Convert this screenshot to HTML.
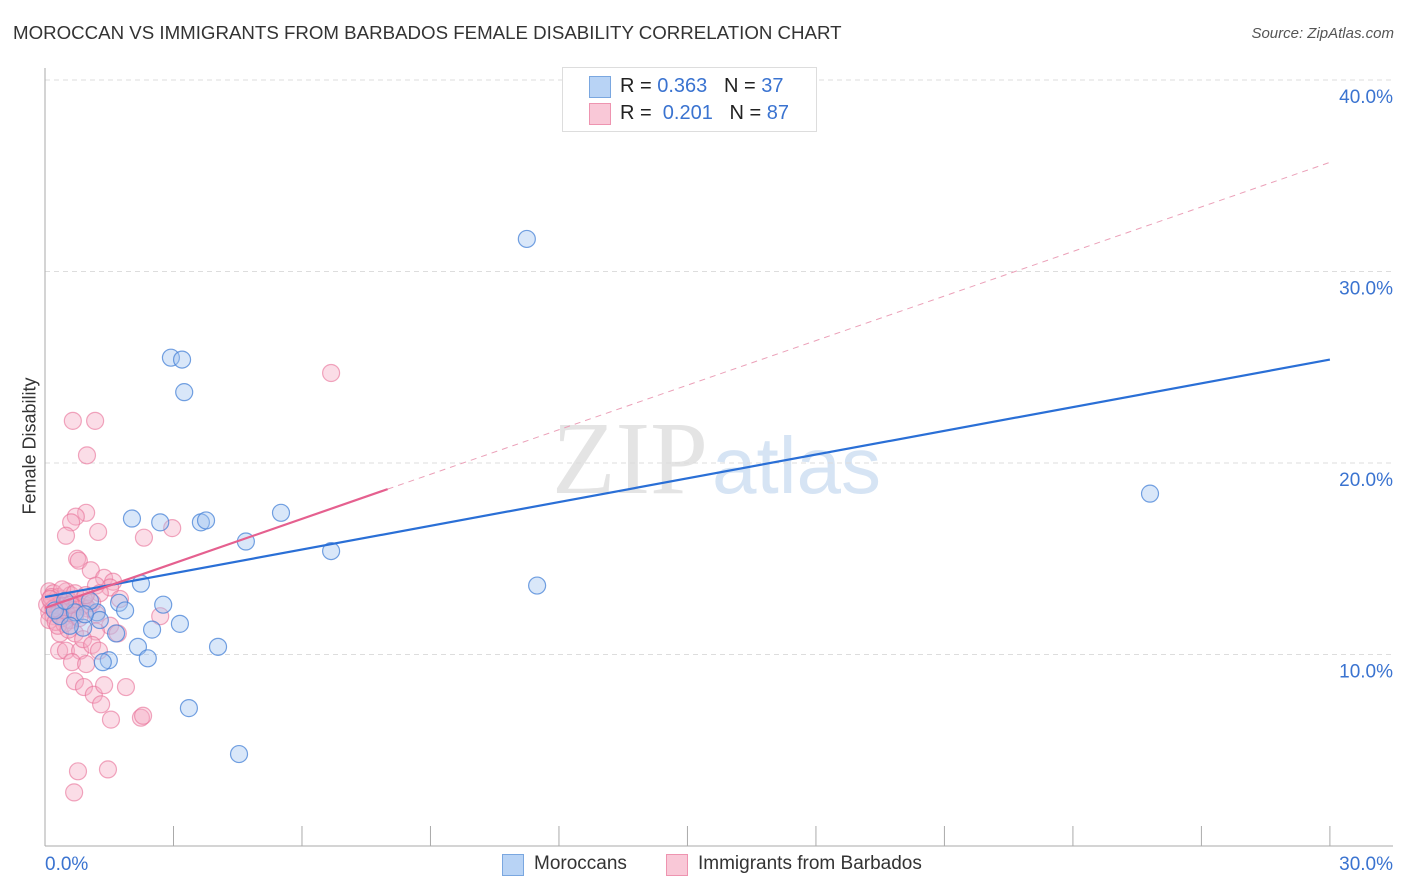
<!DOCTYPE html>
<html><head><meta charset="utf-8"><style>
body{margin:0;background:#fff;font-family:"Liberation Sans",sans-serif;}
#wrap{position:relative;width:1406px;height:892px;overflow:hidden;}
.t{position:absolute;white-space:nowrap;}
</style></head><body>
<div id="wrap">
<div class="t" style="left:13px;top:22px;font-size:18.7px;color:#333;">MOROCCAN VS IMMIGRANTS FROM BARBADOS FEMALE DISABILITY CORRELATION CHART</div>
<div class="t" style="right:12px;top:25px;font-size:15px;color:#555;font-style:italic;">Source: ZipAtlas.com</div>
<div class="t" style="left:-30px;top:444px;font-size:18px;color:#333;transform:rotate(-90deg);width:120px;text-align:center;">Female Disability</div>
<svg id="svg" width="1406" height="892" style="position:absolute;left:0;top:0"></svg>
<div style="position:absolute;left:562px;top:67px;width:253px;height:63px;border:1px solid #ddd;background:#fff;font-size:20px;">
 <div style="position:absolute;left:26px;top:8px;width:20px;height:20px;background:#b8d3f5;border:1px solid #7aa7e0;"></div>
 <div class="t" style="left:57px;top:7px;color:#222;">R = <span style="color:#3a73d0">0.363</span>&nbsp;&nbsp;&nbsp;N = <span style="color:#3a73d0">37</span></div>
 <div style="position:absolute;left:26px;top:35px;width:20px;height:20px;background:#f9c8d7;border:1px solid #ee94b0;"></div>
 <div class="t" style="left:57px;top:34px;color:#222;">R = &nbsp;<span style="color:#3a73d0">0.201</span>&nbsp;&nbsp;&nbsp;N = <span style="color:#3a73d0">87</span></div>
</div>
<div style="position:absolute;left:502px;top:852px;font-size:19px;color:#333;">
 <div style="position:absolute;left:0;top:2px;width:20px;height:20px;background:#b8d3f5;border:1px solid #7aa7e0;"></div>
 <div class="t" style="left:32px;top:1px;">Moroccans</div>
 <div style="position:absolute;left:164px;top:2px;width:20px;height:20px;background:#f9c8d7;border:1px solid #ee94b0;"></div>
 <div class="t" style="left:196px;top:1px;">Immigrants from Barbados</div>
</div>
</div>
<script>
const yTicks=[10,20,30,40];
const yTickLabels=["10.0%","20.0%","30.0%","40.0%"];
const xLabels=["0.0%","30.0%"];
const blueX=[11.25,2.94,3.20,3.25,25.8,2.03,2.69,3.64,3.76,5.51,4.69,6.68,11.49,2.24,2.76,1.73,1.87,1.21,3.15,2.50,0.89,1.66,2.17,4.04,1.49,1.35,2.40,3.36,4.53,0.35,0.70,1.05,0.23,0.58,1.28,0.93,0.47];
const blueY=[31.7,25.5,25.4,23.7,18.4,17.1,16.9,16.9,17.0,17.4,15.9,15.4,13.6,13.7,12.6,12.7,12.3,12.2,11.6,11.3,11.4,11.1,10.4,10.4,9.7,9.6,9.8,7.2,4.8,12.0,12.2,12.8,12.3,11.5,11.8,12.1,12.8];
const pinkX=[6.68,0.65,1.17,0.98,0.96,0.72,0.61,0.49,1.24,2.97,2.31,0.75,0.79,1.07,1.38,1.59,1.52,1.19,1.28,0.93,1.75,2.69,1.52,1.70,1.19,0.70,0.35,0.33,0.49,0.82,0.89,1.10,1.26,0.63,0.96,0.70,0.91,1.14,1.38,1.89,1.31,1.54,2.24,2.29,0.77,1.47,0.68,
0.1,0.2,0.3,0.4,0.5,0.6,0.15,0.25,0.35,0.45,0.55,0.65,0.75,0.85,0.1,0.2,0.3,0.4,0.5,0.6,0.7,0.1,0.25,0.35,0.45,0.9,1.0,1.2,0.05,0.15,0.3,0.55,0.8,1.1,0.4,0.7,0.2,0.6,0.95,0.12];
const pinkY=[24.7,22.2,22.2,20.4,17.4,17.2,16.9,16.2,16.4,16.6,16.1,15.0,14.9,14.4,14.0,13.8,13.5,13.6,13.2,12.6,12.9,12.0,11.5,11.1,11.2,11.1,11.1,10.2,10.2,10.2,10.8,10.5,10.2,9.6,9.5,8.6,8.3,7.9,8.4,8.3,7.4,6.6,6.7,6.8,3.9,4.0,2.8,
13.3,13.2,13.0,12.9,13.3,13.1,12.7,12.5,12.6,12.4,12.8,12.3,12.6,12.5,12.2,12.0,12.1,11.9,12.2,11.8,12.0,11.8,11.7,12.3,11.6,12.9,12.4,12.1,12.6,13.0,11.5,11.3,11.9,12.7,13.4,13.2,12.4,12.6,13.1,12.9];
const blueTrend=[13.0,25.4];
const pinkTrend=[12.43,35.7];
const pinkSolidEnd=8;

const NS="http://www.w3.org/2000/svg";
const svg=document.getElementById('svg');
const X=v=>45+v*42.83;
const Y=v=>846-v*19.15;
function mk(tag,at){const e=document.createElementNS(NS,tag);for(const k in at)e.setAttribute(k,at[k]);svg.appendChild(e);return e;}
let wm=mk('text',{x:552,y:493,'font-size':104,'font-family':'Liberation Serif,serif',fill:'#e4e4e4'});


wm.innerHTML='ZIP<tspan fill="#d6e4f4" font-family="Liberation Sans,sans-serif" font-size="80" dx="4">atlas</tspan>';
yTicks.forEach((t,i)=>{
 const g=mk('line',{x1:45,x2:1393,y1:Y(t),y2:Y(t),stroke:'#ddd','stroke-dasharray':'5,4'});
 
 
 const l=mk('text',{x:1393,y:Y(t)+23,'text-anchor':'end','font-size':19,fill:'#3a73d0','font-family':'Liberation Sans,sans-serif'});
 
 
 l.textContent=yTickLabels[i];
});
let ax=mk('line',{x1:45,x2:45,y1:68,y2:846,stroke:'#aaa'});


let bx=mk('line',{x1:45,x2:1393,y1:846,y2:846,stroke:'#aaa'});


for(let i=1;i<=10;i++){
 const tk=mk('line',{x1:X(i*3),x2:X(i*3),y1:826,y2:846,stroke:'#aaa'});
 
 
}
[[0,'start',45],[1,'end',1393]].forEach(([i,a,x])=>{
 const l=mk('text',{x:x,y:870,'text-anchor':a,'font-size':19,fill:'#3a73d0','font-family':'Liberation Sans,sans-serif'});
 
 
 l.textContent=xLabels[i];
});
pinkX.forEach((x,i)=>{
 const c=mk('circle',{cx:X(x),cy:Y(pinkY[i]),r:8.5,fill:'rgba(246,170,195,0.4)',stroke:'rgba(232,110,150,0.6)','stroke-width':1.2});
 
 
});
blueX.forEach((x,i)=>{
 const c=mk('circle',{cx:X(x),cy:Y(blueY[i]),r:8.5,fill:'rgba(160,196,240,0.4)',stroke:'rgba(70,130,215,0.75)','stroke-width':1.2});
 
 
});
const pAt=x=>pinkTrend[0]+(pinkTrend[1]-pinkTrend[0])*x/30;
let pd=mk('line',{x1:X(pinkSolidEnd),y1:Y(pAt(pinkSolidEnd)),x2:X(30),y2:Y(pinkTrend[1]),stroke:'#eba0b8','stroke-width':1,'stroke-dasharray':'6,5'});


let bl=mk('line',{x1:X(0),y1:Y(blueTrend[0]),x2:X(30),y2:Y(blueTrend[1]),stroke:'#2a6fd6','stroke-width':2.2});


let pl=mk('line',{x1:X(0),y1:Y(pinkTrend[0]),x2:X(pinkSolidEnd),y2:Y(pAt(pinkSolidEnd)),stroke:'#e5608f','stroke-width':2.2});


</script>
</body></html>
